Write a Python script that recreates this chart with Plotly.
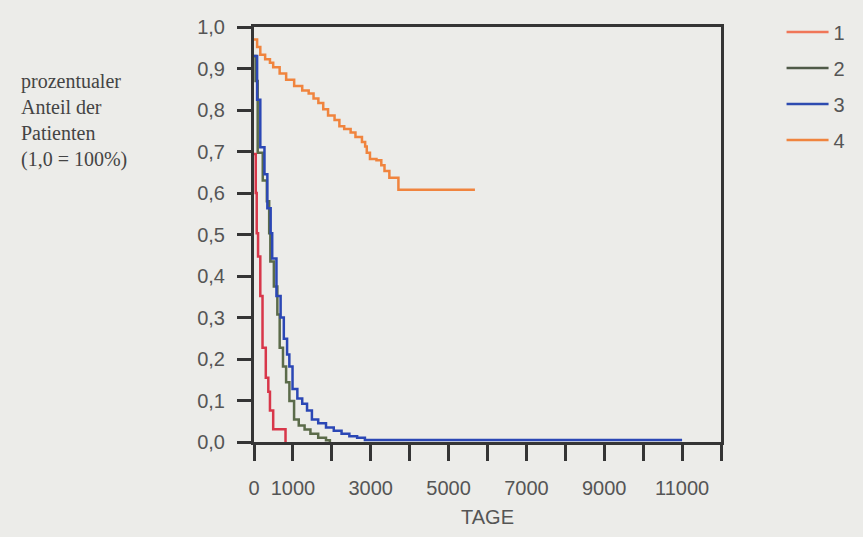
import plotly.graph_objects as go

# ---- data ----
red_days = [0, 45, 70, 104, 162, 219, 303, 368, 410, 493, 810]
red_surv = [0.694, 0.60, 0.503, 0.447, 0.352, 0.227, 0.155, 0.121, 0.076, 0.031, 0.0]

green_days = [0, 40, 95, 225, 330, 390, 420, 510, 600, 660, 745, 825, 910, 1030,
              1150, 1300, 1450, 1650, 1850, 1950]
green_surv = [0.93, 0.87, 0.697, 0.63, 0.58, 0.503, 0.435, 0.375, 0.307, 0.227,
              0.182, 0.144, 0.099, 0.054, 0.04, 0.03, 0.02, 0.01, 0.004, 0.0]

blue_days = [0, 80, 162, 269, 343, 428, 468, 577, 684, 766, 850, 908, 990, 1114,
             1239, 1363, 1488, 1650, 1850, 2050, 2250, 2450, 2650, 2850, 11000]
blue_surv = [0.93, 0.825, 0.71, 0.645, 0.563, 0.503, 0.442, 0.352, 0.30, 0.249,
             0.211, 0.182, 0.128, 0.105, 0.092, 0.076, 0.054, 0.045, 0.035, 0.027,
             0.02, 0.014, 0.01, 0.005, 0.005]

orange_days = [0, 80, 162, 286, 410, 493, 659, 826, 1032, 1239, 1405, 1530, 1654,
               1779, 1903, 2070, 2194, 2318, 2483, 2607, 2774, 2856, 2898, 2980,
               3147, 3271, 3353, 3478, 3711, 5677]
orange_surv = [0.970, 0.952, 0.933, 0.922, 0.914, 0.903, 0.888, 0.873, 0.858, 0.847,
               0.840, 0.828, 0.817, 0.802, 0.787, 0.776, 0.761, 0.754, 0.746, 0.735,
               0.723, 0.712, 0.697, 0.682, 0.679, 0.667, 0.653, 0.637, 0.608, 0.608]

legend_names = ["1", "2", "3", "4"]
legend_colors = ["#f07658", "#4f5a48", "#2d4bb0", "#f0843e"]

x_tickvals = list(range(0, 12001, 1000))
x_ticktext = ["0", "1000", "", "3000", "", "5000", "", "7000", "", "9000", "", "11000", ""]
y_tickvals = [i / 10 for i in range(11)]
y_ticktext = ["0,0", "0,1", "0,2", "0,3", "0,4", "0,5", "0,6", "0,7", "0,8", "0,9", "1,0"]

BG = "#ecece9"
AX = "#353535"
TXT = "#555555"

fig = go.Figure()
curves = [
    (orange_days, orange_surv, "#f0843e"),
    (green_days, green_surv, "#5b6b4a"),
    (blue_days, blue_surv, "#2b47b5"),
    (red_days, red_surv, "#d8374a"),
]
for xs, ys, col in curves:
    fig.add_trace(go.Scatter(x=xs, y=ys, mode="lines", line=dict(color=col, width=2.5, shape="hv"),
                             showlegend=False, hoverinfo="skip"))

for name, col in zip(legend_names, legend_colors):
    fig.add_trace(go.Scatter(x=[None], y=[None], mode="lines", name=name, legendgroup=name,
                             line=dict(color=col, width=2.5)))

fig.update_layout(
    width=863, height=537, autosize=False,
    margin=dict(l=253.5, r=127.5, t=18, b=73, pad=0),
    paper_bgcolor=BG, plot_bgcolor=BG,
    font=dict(family="Liberation Sans, Arial, sans-serif", size=20, color=TXT),
    legend=dict(x=(798 - 253.5) / 482, xanchor="left", y=1.035, yanchor="top",
                bgcolor="rgba(0,0,0,0)", font=dict(size=20, color=TXT),
                tracegroupgap=7, itemwidth=42),
    annotations=[dict(
        text="prozentualer<br>Anteil der<br>Patienten<br>(1,0 = 100%)",
        xref="paper", yref="paper", x=(11 - 253.5) / 482, y=1 - (118 - 18) / 446,
        xanchor="left", yanchor="middle", align="left", showarrow=False,
        font=dict(family="Liberation Serif, Times New Roman, serif", size=20, color="#444444"))],
)
fig.update_xaxes(
    range=[0, 12000], tickmode="array", tickvals=x_tickvals, ticktext=x_ticktext,
    ticks="outside", ticklen=16, tickwidth=2.5, tickcolor=AX,
    showline=True, linecolor=AX, linewidth=3, mirror=True, showgrid=False, zeroline=False,
    ticklabelstandoff=10, layer="below traces",
    title=dict(text="TAGE", standoff=12, font=dict(size=20, color=TXT)),
)
fig.update_yaxes(
    range=[0, 1], tickmode="array", tickvals=y_tickvals, ticktext=y_ticktext,
    ticks="outside", ticklen=14, tickwidth=2.5, tickcolor=AX,
    showline=True, linecolor=AX, linewidth=3, mirror=True, showgrid=False, zeroline=False,
    ticklabelstandoff=8,
)

fig.write_html("out.html")
